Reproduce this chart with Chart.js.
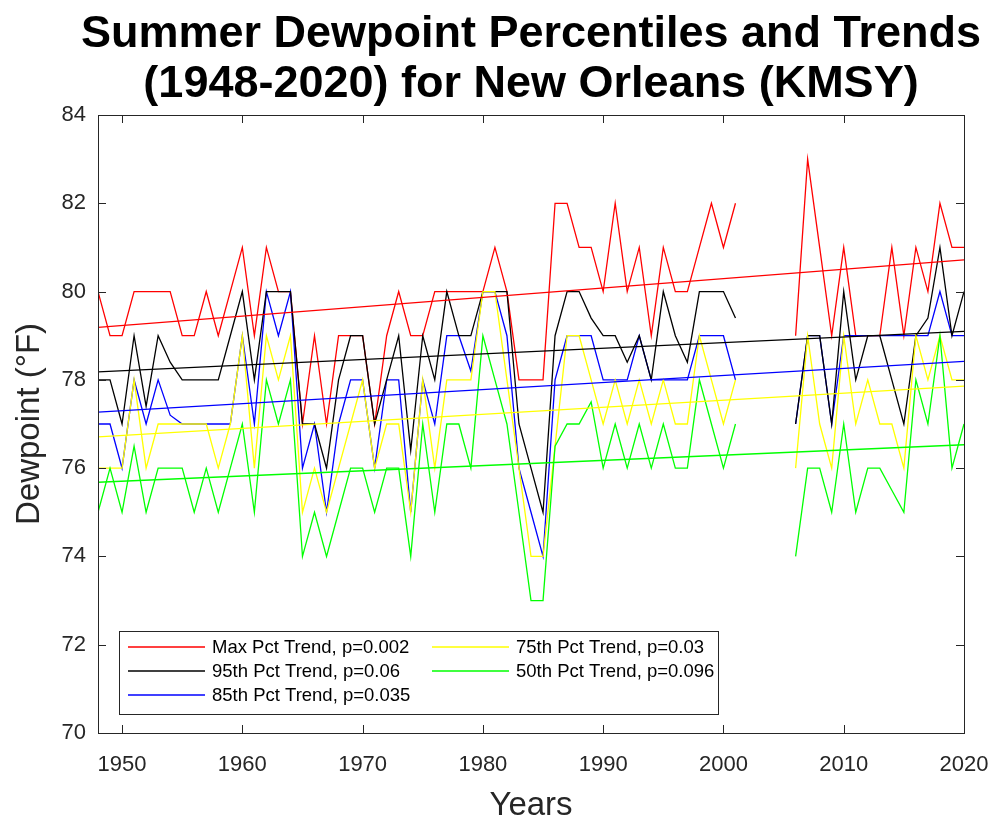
<!DOCTYPE html>
<html>
<head>
<meta charset="utf-8">
<script src="https://cdn.jsdelivr.net/npm/chart.js@4.4.0/dist/chart.umd.min.js"></script>
<style>
  html, body { margin: 0; padding: 0; background: #fff; }
</style>
</head>
<body>
<canvas id="dewChart" width="993" height="826"></canvas>
<script>
// Years 1948-2020 (no data 2002-2005)
const years = [1948, 1949, 1950, 1951, 1952, 1953, 1954, 1955, 1956, 1957, 1958, 1959,
  1960, 1961, 1962, 1963, 1964, 1965, 1966, 1967, 1968, 1969, 1970, 1971, 1972, 1973,
  1974, 1975, 1976, 1977, 1978, 1979, 1980, 1981, 1982, 1983, 1984, 1985, 1986, 1987,
  1988, 1989, 1990, 1991, 1992, 1993, 1994, 1995, 1996, 1997, 1998, 1999, 2000, 2001,
  2002, 2003, 2004, 2005, 2006, 2007, 2008, 2009, 2010, 2011, 2012, 2013, 2014, 2015,
  2016, 2017, 2018, 2019, 2020];

const maxPct = [80, 79, 79, 80, 80, 80, 80, 79, 79, 80, 79, 80,
  81, 79, 81, 80, 80, 77, 79, 77, 79, 79, 79, 77, 79, 80,
  79, 79, 80, 80, 80, 80, 80, 81, 80, 78, 78, 78, 82, 82,
  81, 81, 80, 82, 80, 81, 79, 81, 80, 80, 81, 82, 81, 82,
  null, null, null, null, 79, 83, 81, 79, 81, 79, 79, 79, 81, 79,
  81, 80, 82, 81, 81];

const pct95 = [78, 78, 77, 79, 77.4, 79, 78.4, 78, 78, 78, 78, 79,
  80, 78, 80, 80, 80, 77, 77, 76, 78, 79, 79, 77, 78, 79,
  76.4, 79, 78, 80, 79, 79, 80, 80, 80, 77, 76, 75, 79, 80,
  80, 79.4, 79, 79, 78.4, 79, 78, 80, 79, 78.4, 80, 80, 80, 79.4,
  null, null, null, null, 77, 79, 79, 77, 80, 78, 79, 79, 78, 77,
  79, 79.4, 81, 79, 80];

const pct85 = [77, 77, 76, 78, 77, 78, 77.2, 77, 77, 77, 77, 77,
  79, 77, 80, 79, 80, 76, 77, 75, 77, 78, 78, 76, 78, 78,
  75, 78, 77, 79, 79, 78.2, 80, 80, 79, 76, 75, 74, 78, 79,
  79, 79, 78, 78, 78, 79, 78, 78, 78, 78, 79, 79, 79, 78,
  null, null, null, null, 77, 79, 79, 77, 79, 79, 79, 79, 79, 79,
  79, 79, 80, 79, 79];

const pct75 = [76, 76, 76, 78, 76, 77, 77, 77, 77, 77, 76, 77,
  79, 76, 79, 78, 79, 75, 76, 75, 76, 77, 78, 76, 77, 77,
  75, 78, 76, 78, 78, 78, 80, 80, 78, 76, 74, 74, 76.5, 79,
  79, 78, 77, 78, 77, 78, 77, 78, 77, 77, 79, 78, 77, 78,
  null, null, null, null, 76, 79, 77, 76, 79, 77, 78, 77, 77, 76,
  79, 78, 79, 78, 78];

const pct50 = [75, 76, 75, 76.5, 75, 76, 76, 76, 75, 76, 75, 76,
  77, 75, 78, 77, 78, 74, 75, 74, 75, 76, 76, 75, 76, 76,
  74, 77, 75, 77, 77, 76, 79, 78, 77, 75, 73, 73, 76.5, 77,
  77, 77.5, 76, 77, 76, 77, 76, 77, 76, 76, 78, 77, 76, 77,
  null, null, null, null, 74, 76, 76, 75, 77, 75, 76, 76, 75.5, 75,
  78, 77, 79, 76, 77];

// Trend line end values (1948, 2020)
const trendYears = [1948, 2020];
const trendMax = [79.19, 80.72];
const trend95 = [78.18, 79.1];
const trend85 = [77.27, 78.42];
const trend75 = [76.71, 77.86];
const trend50 = [75.68, 76.53];

const trendLabels = ["Max Pct Trend, p=0.002", "95th Pct Trend, p=0.06", "85th Pct Trend, p=0.035",
  "75th Pct Trend, p=0.03", "50th Pct Trend, p=0.096"];
const seriesColors = ["#ff0000", "#000000", "#0000ff", "#ffff00", "#00ff00"];

const xTickValues = [1950, 1960, 1970, 1980, 1990, 2000, 2010, 2020];
const yTickValues = [70, 72, 74, 76, 78, 80, 82, 84];
const titleLines = ["Summer Dewpoint Percentiles and Trends", "(1948-2020) for New Orleans (KMSY)"];

const fontFamily = '"Liberation Sans", Arial, sans-serif';
const axisColor = "#262626";

function toPoints(xs, ys) {
  return xs.map((x, i) => ({ x: x, y: ys[i] }));
}

const dataSeries = [maxPct, pct95, pct85, pct75, pct50];
const trendSeries = [trendMax, trend95, trend85, trend75, trend50];
// bottom-to-top stacking of the raw series (lower order = drawn on top)
const dataOrder = [5, 3, 4, 2, 1];

const datasets = [];
dataSeries.forEach((vals, i) => {
  datasets.push({
    label: "data" + i,
    data: toPoints(years, vals),
    borderColor: seriesColors[i],
    borderWidth: 1.3,
    pointRadius: 0,
    tension: 0,
    spanGaps: false,
    order: dataOrder[i],
  });
});
trendSeries.forEach((vals, i) => {
  datasets.push({
    label: trendLabels[i],
    data: toPoints(trendYears, vals),
    borderColor: seriesColors[i],
    borderWidth: 1.3,
    pointRadius: 0,
    order: 0,
  });
});

// Matlab-style box with inward ticks, the two-line title and the legend box
const boxPlugin = {
  id: "boxPlugin",
  afterDraw(chart) {
    const ctx = chart.ctx;
    const a = chart.chartArea;
    const xs = chart.scales.x;
    const ys = chart.scales.y;
    ctx.save();
    ctx.strokeStyle = axisColor;
    ctx.lineWidth = 1;
    ctx.strokeRect(a.left + 0.5, a.top + 0.5, a.right - a.left, a.bottom - a.top);
    ctx.beginPath();
    xTickValues.forEach((v) => {
      const px = Math.round(xs.getPixelForValue(v)) + 0.5;
      ctx.moveTo(px, a.bottom);
      ctx.lineTo(px, a.bottom - 8);
      ctx.moveTo(px, a.top);
      ctx.lineTo(px, a.top + 8);
    });
    yTickValues.forEach((v) => {
      const py = Math.round(ys.getPixelForValue(v)) + 0.5;
      ctx.moveTo(a.left, py);
      ctx.lineTo(a.left + 8, py);
      ctx.moveTo(a.right, py);
      ctx.lineTo(a.right - 8, py);
    });
    ctx.stroke();

    // title
    ctx.fillStyle = "#000";
    ctx.font = "bold 45px " + fontFamily;
    ctx.textAlign = "center";
    ctx.textBaseline = "alphabetic";
    const cx = (a.left + a.right) / 2;
    ctx.fillText(titleLines[0], cx, 47);
    ctx.fillText(titleLines[1], cx, 97);

    // legend (trend lines only, two columns)
    const lx = 119, ly = 631, lw = 599, lh = 83;
    ctx.fillStyle = "#fff";
    ctx.fillRect(lx, ly, lw, lh);
    ctx.strokeStyle = axisColor;
    ctx.lineWidth = 1;
    ctx.strokeRect(lx + 0.5, ly + 0.5, lw, lh);
    const colX = [lx + 9, lx + 313];
    const rowY = [ly + 16, ly + 40, ly + 64];
    ctx.font = "18.5px " + fontFamily;
    ctx.textAlign = "left";
    ctx.textBaseline = "middle";
    trendLabels.forEach((label, i) => {
      const col = i < 3 ? 0 : 1;
      const row = i < 3 ? i : i - 3;
      const x0 = colX[col];
      const y0 = rowY[row];
      ctx.strokeStyle = seriesColors[i];
      ctx.lineWidth = 1.3;
      ctx.beginPath();
      ctx.moveTo(x0, y0);
      ctx.lineTo(x0 + 77, y0);
      ctx.stroke();
      ctx.fillStyle = "#000";
      ctx.fillText(label, x0 + 84, y0 + 1);
    });
    ctx.restore();
  },
};

const ctx = document.getElementById("dewChart").getContext("2d");
const chart = new Chart(ctx, {
  type: "line",
  data: { datasets: datasets },
  plugins: [boxPlugin],
  options: {
    responsive: false,
    animation: false,
    events: [],
    layout: { padding: { top: 115, right: 29, left: 0, bottom: 0 } },
    plugins: {
      legend: { display: false },
      tooltip: { enabled: false },
      title: { display: false },
    },
    scales: {
      x: {
        type: "linear",
        min: 1948,
        max: 2020,
        grid: { display: false, drawTicks: false },
        border: { display: false },
        afterBuildTicks: (scale) => { scale.ticks = xTickValues.map((v) => ({ value: v })); },
        afterFit: (scale) => {
          scale.height = 93;
          scale.paddingLeft = 0;
          scale.paddingRight = 0;
        },
        ticks: {
          padding: 19,
          color: axisColor,
          font: { family: fontFamily, size: 22 },
          maxRotation: 0,
          autoSkip: false,
          callback: (v) => String(v),
        },
        title: {
          display: true,
          text: "Years",
          color: axisColor,
          font: { family: fontFamily, size: 33 },
          padding: { top: 0, bottom: 0 },
        },
      },
      y: {
        min: 70,
        max: 84,
        grid: { display: false, drawTicks: false },
        border: { display: false },
        afterBuildTicks: (scale) => { scale.ticks = yTickValues.map((v) => ({ value: v })); },
        afterFit: (scale) => {
          scale.width = 98;
          scale.paddingTop = 0;
          scale.paddingBottom = 0;
        },
        ticks: {
          padding: 12,
          color: axisColor,
          font: { family: fontFamily, size: 22 },
          callback: (v) => String(v),
        },
        title: {
          display: true,
          text: "Dewpoint (°F)",
          color: axisColor,
          font: { family: fontFamily, size: 33 },
          padding: { top: 10, bottom: 0 },
        },
      },
    },
  },
});
</script>
</body>
</html>
